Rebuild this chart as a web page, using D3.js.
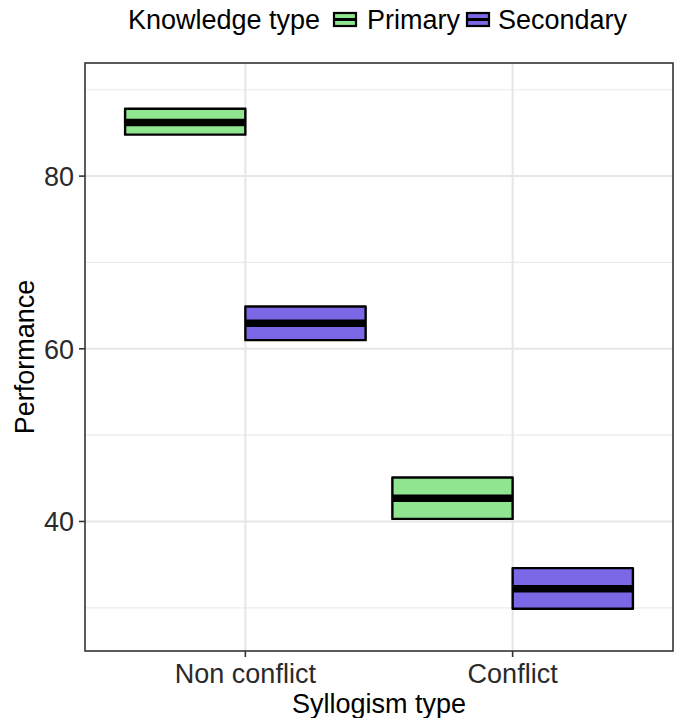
<!DOCTYPE html>
<html><head><meta charset="utf-8">
<script src="https://cdn.jsdelivr.net/npm/d3@7"></script>
<style>body{margin:0;background:#fff}svg{display:block}text{font-family:"Liberation Sans",Arial,sans-serif}</style>
</head><body>
<script>
const categories = ["Non conflict", "Conflict"];
const groups = ["Primary", "Secondary"];
const colors = ["#90E590", "#7B68E6"];
// means and box limits, by category then group
const meanPrimary = [86.2, 42.7];
const lowPrimary = [84.8, 40.3];
const highPrimary = [87.8, 45.1];
const meanSecondary = [62.95, 32.2];
const lowSecondary = [61.0, 29.9];
const highSecondary = [64.9, 34.6];
const yMajorTicks = [40, 60, 80];
const yMinorTicks = [30, 50, 70, 90];
const yDomain = [25.0, 93.1];

const W = 678, H = 718;
const P = {l: 85, r: 673, t: 63, b: 651};
const svg = d3.select("body").append("svg").attr("width", W).attr("height", H);

// discrete scale: positions 1,2 on [0.4, 2.6]
const xc = d3.scaleLinear().domain([0.4, 2.6]).range([P.l, P.r]);
const xpos = c => xc(categories.indexOf(c) + 1);
const unit = xc(1) - xc(0);
const y = d3.scaleLinear().domain(yDomain).range([P.b, P.t]);

// gridlines
const g = svg.append("g");
g.selectAll(".minor").data(yMinorTicks).enter().append("line")
  .attr("x1", P.l).attr("x2", P.r).attr("y1", d => y(d)).attr("y2", d => y(d))
  .attr("stroke", "#EBEBEB").attr("stroke-width", 1.2);
g.selectAll(".major").data(yMajorTicks).enter().append("line")
  .attr("x1", P.l).attr("x2", P.r).attr("y1", d => y(d)).attr("y2", d => y(d))
  .attr("stroke", "#E6E6E6").attr("stroke-width", 2);
g.selectAll(".vx").data(categories).enter().append("line")
  .attr("x1", d => xpos(d)).attr("x2", d => xpos(d)).attr("y1", P.t).attr("y2", P.b)
  .attr("stroke", "#E6E6E6").attr("stroke-width", 2);

// data rows
const rows = [];
categories.forEach((c, i) => {
  rows.push({c, grp: 0, mean: meanPrimary[i], lo: lowPrimary[i], hi: highPrimary[i]});
  rows.push({c, grp: 1, mean: meanSecondary[i], lo: lowSecondary[i], hi: highSecondary[i]});
});
const bw = 0.45 * unit;
const bx = d => xpos(d.c) + (d.grp === 0 ? -bw : 0);
const bars = svg.append("g").selectAll("g").data(rows).enter().append("g");
bars.append("rect")
  .attr("x", bx).attr("width", bw)
  .attr("y", d => y(d.hi)).attr("height", d => y(d.lo) - y(d.hi))
  .attr("fill", d => colors[d.grp]).attr("stroke", "#000").attr("stroke-width", 2.4)
  .attr("stroke-linejoin", "round");
bars.append("line")
  .attr("x1", bx).attr("x2", d => bx(d) + bw)
  .attr("y1", d => y(d.mean)).attr("y2", d => y(d.mean))
  .attr("stroke", "#000").attr("stroke-width", 7.5);

// panel border
svg.append("rect").attr("x", P.l).attr("y", P.t).attr("width", P.r - P.l).attr("height", P.b - P.t)
  .attr("fill", "none").attr("stroke", "#333").attr("stroke-width", 1.6);

// axes
const fs = 27;
const yAxis = svg.append("g");
yAxis.selectAll("line").data(yMajorTicks).enter().append("line")
  .attr("x1", P.l - 6).attr("x2", P.l).attr("y1", d => y(d)).attr("y2", d => y(d))
  .attr("stroke", "#333").attr("stroke-width", 1.6);
yAxis.selectAll("text").data(yMajorTicks).enter().append("text")
  .attr("x", P.l - 11).attr("y", d => y(d)).attr("dy", "0.36em")
  .attr("text-anchor", "end").attr("font-size", fs).attr("fill", "#2a2a2a").text(d => d);
const xAxis = svg.append("g");
xAxis.selectAll("line").data(categories).enter().append("line")
  .attr("x1", d => xpos(d)).attr("x2", d => xpos(d)).attr("y1", P.b).attr("y2", P.b + 6)
  .attr("stroke", "#333").attr("stroke-width", 1.6);
xAxis.selectAll("text").data(categories).enter().append("text")
  .attr("x", d => xpos(d)).attr("y", 683).attr("text-anchor", "middle")
  .attr("font-size", fs).attr("fill", "#2a2a2a").text(d => d);

svg.append("text").attr("x", (P.l + P.r) / 2).attr("y", 713).attr("text-anchor", "middle")
  .attr("font-size", fs).attr("fill", "#000").text("Syllogism type");
svg.append("text").attr("transform", `translate(34,${(P.t + P.b) / 2}) rotate(-90)`)
  .attr("text-anchor", "middle").attr("font-size", fs).attr("fill", "#000").text("Performance");

// legend
const lg = svg.append("g");
lg.append("text").attr("x", 128).attr("y", 29).attr("font-size", fs).attr("fill", "#000").text("Knowledge type");
const keyX = [334, 467], labX = [367, 498];
groups.forEach((gname, i) => {
  lg.append("rect").attr("x", keyX[i]).attr("y", 13).attr("width", 22).attr("height", 13)
    .attr("fill", colors[i]).attr("stroke", "#000").attr("stroke-width", 2.2);
  lg.append("line").attr("x1", keyX[i]).attr("x2", keyX[i] + 22).attr("y1", 19.5).attr("y2", 19.5)
    .attr("stroke", "#000").attr("stroke-width", 3);
  lg.append("text").attr("x", labX[i]).attr("y", 29).attr("font-size", fs).attr("fill", "#000").text(gname);
});
</script>
</body></html>
